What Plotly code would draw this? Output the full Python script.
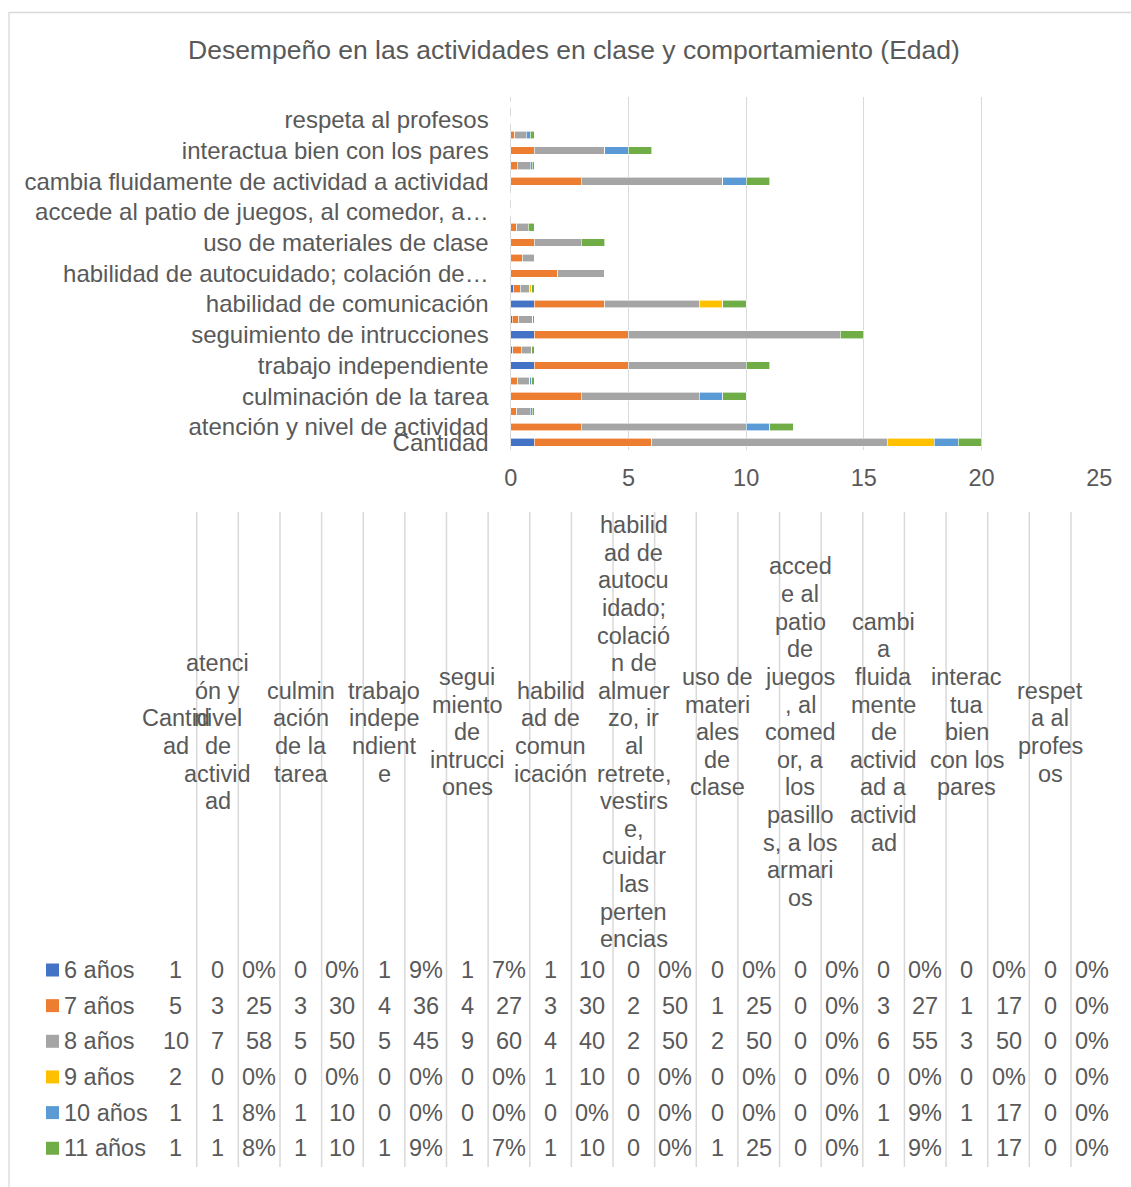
import plotly.graph_objects as go

W, H = 1131, 1187

# ---- data ----
edades = ["6 años", "7 años", "8 años", "9 años", "10 años", "11 años"]
colores = ["#4472C4", "#ED7D31", "#A5A5A5", "#FFC000", "#5B9BD5", "#70AD47"]

# 23 columns: Cantidad, then (count, %) for each of 11 activities
es_pct = [False, False, True, False, True, False, True, False, True, False, True,
          False, True, False, True, False, True, False, True, False, True, False, True]

seis = [1, 0, 0.00, 0, 0.00, 1, 0.09, 1, 0.07, 1, 0.10, 0, 0.00, 0, 0.00, 0, 0.00, 0, 0.00, 0, 0.00, 0, 0.00]
siete = [5, 3, 0.25, 3, 0.30, 4, 0.36, 4, 0.27, 3, 0.30, 2, 0.50, 1, 0.25, 0, 0.00, 3, 0.27, 1, 0.17, 0, 0.00]
ocho = [10, 7, 0.58, 5, 0.50, 5, 0.45, 9, 0.60, 4, 0.40, 2, 0.50, 2, 0.50, 0, 0.00, 6, 0.55, 3, 0.50, 0, 0.00]
nueve = [2, 0, 0.00, 0, 0.00, 0, 0.00, 0, 0.00, 1, 0.10, 0, 0.00, 0, 0.00, 0, 0.00, 0, 0.00, 0, 0.00, 0, 0.00]
diez = [1, 1, 0.08, 1, 0.10, 0, 0.00, 0, 0.00, 0, 0.00, 0, 0.00, 0, 0.00, 0, 0.00, 1, 0.09, 1, 0.17, 0, 0.00]
once = [1, 1, 0.08, 1, 0.10, 1, 0.09, 1, 0.07, 1, 0.10, 0, 0.00, 1, 0.25, 0, 0.00, 1, 0.09, 1, 0.17, 0, 0.00]
series = [seis, siete, ocho, nueve, diez, once]

etiquetas_eje = ["Cantidad", "atención y nivel de actividad", "", "culminación de la tarea", "",
                 "trabajo independiente", "", "seguimiento de intrucciones", "",
                 "habilidad de comunicación", "", "habilidad de autocuidado; colación de…", "",
                 "uso de materiales de clase", "", "accede al patio de juegos, al comedor, a…", "",
                 "cambia fluidamente de actividad a actividad", "", "interactua bien con los pares", "",
                 "respeta al profesos", ""]

encabezados = [
    "Cantid|ad",
    "atenci|ón y|nivel|de|activid|ad", "",
    "culmin|ación|de la|tarea", "",
    "trabajo|indepe|ndient|e", "",
    "segui|miento|de|intrucci|ones", "",
    "habilid|ad de|comun|icación", "",
    "habilid|ad de|autocu|idado;|colació|n de|almuer|zo, ir|al|retrete,|vestirs|e,|cuidar|las|perten|encias", "",
    "uso de|materi|ales|de|clase", "",
    "acced|e al|patio|de|juegos|, al|comed|or, a|los|pasillo|s, a los|armari|os", "",
    "cambi|a|fluida|mente|de|activid|ad a|activid|ad", "",
    "interac|tua|bien|con los|pares", "",
    "respet|a al|profes|os", "",
]

titulo = "Desempeño en las actividades en clase y comportamiento (Edad)"

# ---- helpers ----
def px(x):
    return x / W

def py(y):
    return 1 - y / H

TXT = "#595959"
GRID = "#D9D9D9"
FONT = "Liberation Sans, Arial, sans-serif"
FS = 23.5

def fmt(v, pct):
    if pct:
        s = f"{round(v * 100)}%"
        if len(s) > 2:
            s = s[:-1]
        return s
    return f"{v:g}"

ypos = list(range(len(etiquetas_eje)))

fig = go.Figure()
for nombre, vals, col in zip(edades, series, colores):
    fig.add_trace(go.Bar(
        y=ypos, x=vals, orientation="h", name=nombre,
        marker=dict(color=col, line=dict(color="white", width=0.6)),
        showlegend=False,
    ))

fig.update_layout(
    width=W, height=H,
    margin=dict(l=0, r=0, t=0, b=0, pad=0, autoexpand=False),
    paper_bgcolor="white", plot_bgcolor="white",
    barmode="stack", bargap=0.5,
    font=dict(family=FONT, color=TXT, size=FS),
    xaxis=dict(domain=[px(510.7), px(1099.3)], range=[0, 25], dtick=5,
               showgrid=True, gridcolor=GRID, gridwidth=1.3,
               zeroline=True, zerolinecolor=GRID, zerolinewidth=1.3,
               showline=False, ticks="", tickfont=dict(size=FS, color=TXT),
               ticklabelstandoff=11, automargin=False, fixedrange=True),
    yaxis=dict(domain=[py(450), py(96.7)], range=[-0.5, len(ypos) - 0.5],
               tickmode="array", tickvals=ypos, ticktext=etiquetas_eje,
               showgrid=False, zeroline=False, showline=False, ticks="",
               tickfont=dict(size=24, color=TXT), ticklabelstandoff=21,
               automargin=False, fixedrange=True),
)

shapes = []
annotations = []

# outer border
shapes.append(dict(type="rect", xref="paper", yref="paper",
                   x0=px(9), y0=py(1200), x1=px(1145), y1=py(12.5),
                   line=dict(color=GRID, width=1.3), fillcolor="rgba(0,0,0,0)", layer="below"))

# title
annotations.append(dict(text=titulo, xref="paper", yref="paper", x=px(574), y=py(50),
                        xanchor="center", yanchor="middle", showarrow=False,
                        font=dict(size=26.5, color=TXT, family=FONT)))

# data table
ncol = len(encabezados)
col0 = 175.9
dcol = 41.63
for k in range(ncol - 1):
    xl = col0 + dcol / 2 + k * dcol
    shapes.append(dict(type="line", xref="paper", yref="paper",
                       x0=px(xl), x1=px(xl), y0=py(512), y1=py(1167),
                       line=dict(color=GRID, width=1.5)))

hdr_centro = 732.2
hdr_linea = 27.62
for k, hdr in enumerate(encabezados):
    if not hdr:
        continue
    lineas = hdr.split("|")
    n = len(lineas)
    for j, ln in enumerate(lineas):
        yc = hdr_centro + (j - (n - 1) / 2) * hdr_linea
        annotations.append(dict(text=ln, xref="paper", yref="paper",
                                x=px(col0 + k * dcol), y=py(yc),
                                xanchor="center", yanchor="middle", align="center",
                                showarrow=False, font=dict(size=FS, color=TXT, family=FONT)))

row0 = 970.0
drow = 35.65
for i, (nombre, vals, col) in enumerate(zip(edades, series, colores)):
    yc = row0 + i * drow
    shapes.append(dict(type="rect", xref="paper", yref="paper",
                       x0=px(46), x1=px(59), y0=py(yc + 6.5), y1=py(yc - 6.5),
                       fillcolor=col, line=dict(width=0)))
    annotations.append(dict(text=nombre, xref="paper", yref="paper", x=px(62), y=py(yc),
                            xanchor="left", yanchor="middle", showarrow=False,
                            font=dict(size=FS, color=TXT, family=FONT)))
    for k, (v, p) in enumerate(zip(vals, es_pct)):
        annotations.append(dict(text=fmt(v, p), xref="paper", yref="paper",
                                x=px(col0 + k * dcol), y=py(yc),
                                xanchor="center", yanchor="middle", showarrow=False,
                                font=dict(size=FS, color=TXT, family=FONT)))

fig.update_layout(shapes=shapes, annotations=annotations)
fig.write_html(
    "out.html",
    config={"displayModeBar": False},
    post_script="document.body.style.margin='0';document.body.style.padding='0';"
                "document.documentElement.style.overflow='hidden';",
)
